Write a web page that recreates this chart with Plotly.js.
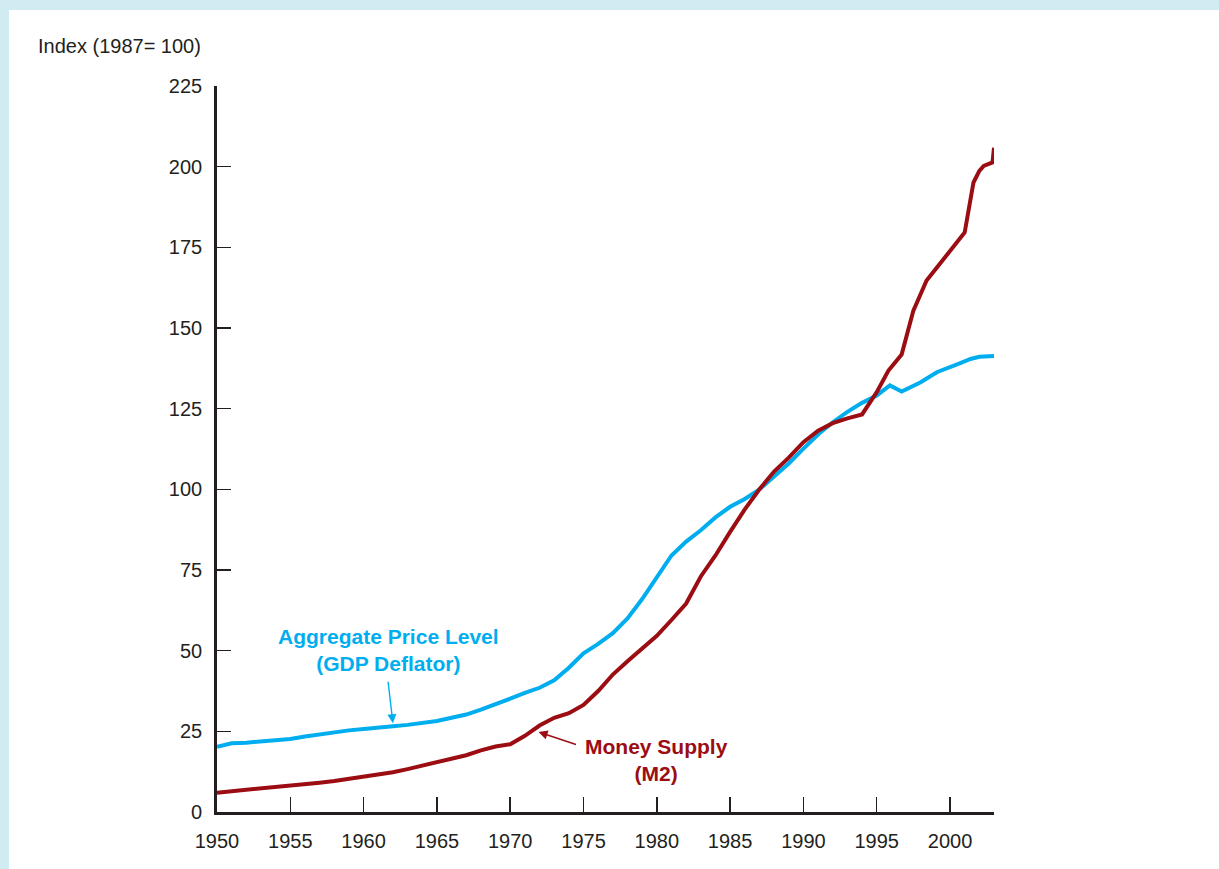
<!DOCTYPE html>
<html>
<head>
<meta charset="utf-8">
<script src="https://cdn.plot.ly/plotly-3.0.1.min.js"></script>
<style>html,body{margin:0;padding:0;background:#d0ebf1;}</style>
</head>
<body>
<div id="chart" style="width:1219px;height:869px;"></div>
<script>
// GDP deflator (1987 = 100)
const deflatorYears = [1950,1951,1952,1953,1954,1955,1956,1957,1958,1959,1960,1961,1962,1963,1964,1965,1966,1967,1968,1969,1970,1971,1972,1973,1974,1975,1976,1977,1978,1979,1980,1981,1982,1983,1984,1985,1986,1987,1988,1989,1990,1991,1992,1993,1994,1995,1995.9,1996.7,1998,1999.1,2000.7,2001.4,2002,2003];
const deflatorValues = [20.2,21.3,21.5,21.8,22.0,22.6,23.4,24.1,24.6,25.3,25.7,26.0,26.6,27.0,27.5,28.2,29.2,30.2,31.7,33.3,35.1,36.9,38.5,40.8,44.7,49.2,52.1,55.4,60.0,66.0,72.5,79.5,83.8,87.3,91.3,94.6,97.0,100.0,104.0,108.0,112.6,117.0,120.8,124.0,126.8,129.1,132.2,130.3,133.2,136.3,139.1,140.4,141.1,141.3];

// Money supply M2 (1987 = 100)
const m2Years = [1950,1951,1952,1953,1954,1955,1956,1957,1958,1959,1960,1961,1962,1963,1964,1965,1966,1967,1968,1969,1970,1971,1972,1973,1974,1975,1976,1977,1978,1979,1980,1981,1982,1983,1984,1985,1986,1987,1988,1989,1990,1991,1992,1993,1994,1995,1995.8,1996.7,1997.5,1998.4,2001.0,2001.6,2002.0,2002.3,2002.9,2003];
const m2Values = [6.0,6.4,6.9,7.4,7.8,8.3,8.7,9.1,9.6,10.3,10.7,11.4,12.3,13.3,14.4,15.5,16.6,17.6,19.1,20.3,21.0,23.6,26.8,29.2,30.6,33.2,37.5,42.6,46.7,50.6,54.6,59.5,64.6,73.0,79.5,86.8,93.8,100.0,105.5,109.8,114.6,118.2,120.5,122.0,123.2,130.1,136.8,141.8,155.4,164.7,179.6,195.1,198.7,200.2,201.3,205.9];

const yTicks = [0,25,50,75,100,125,150,175,200,225];
const xTicks = [1950,1955,1960,1965,1970,1975,1980,1985,1990,1995,2000];

const BLUE = '#00aeef';
const RED = '#9b0d12';
const AXIS = '#231f20';
const FONT = 'Liberation Sans, Arial, Helvetica, sans-serif';

const traces = [
  {x: deflatorYears, y: deflatorValues, type: 'scatter', mode: 'lines',
   line: {color: BLUE, width: 4}, hoverinfo: 'skip'},
  {x: m2Years, y: m2Values, type: 'scatter', mode: 'lines',
   line: {color: RED, width: 4}, hoverinfo: 'skip'}
];

const layout = {
  width: 1219, height: 869,
  margin: {l: 217, r: 225, t: 86, b: 57},
  paper_bgcolor: '#d0ebf1',
  plot_bgcolor: 'rgba(0,0,0,0)',
  showlegend: false,
  font: {family: FONT, size: 20, color: '#231f20'},
  title: {text: 'Index (1987= 100)', xref: 'container', yref: 'container',
          x: 38/1219, xanchor: 'left', y: 1 - 46/869, yanchor: 'middle',
          font: {family: FONT, size: 20, color: '#231f20'}},
  xaxis: {range: [1950, 2003], tickvals: xTicks, ticktext: xTicks.map(String),
          ticks: 'inside', ticklen: 15, tickwidth: 1.5, tickcolor: AXIS,
          showline: true, linewidth: 2.8, linecolor: AXIS,
          showgrid: false, zeroline: false, ticklabelstandoff: 9,
          tickfont: {family: FONT, size: 20, color: '#231f20'}},
  yaxis: {range: [0, 225], tickvals: yTicks, ticktext: yTicks.map(String),
          ticks: 'inside', ticklen: 14, tickwidth: 1.5, tickcolor: AXIS,
          showline: true, linewidth: 2.8, linecolor: AXIS,
          showgrid: false, zeroline: false, ticklabelstandoff: 8,
          tickfont: {family: FONT, size: 20, color: '#231f20'}},
  shapes: [
    {type: 'rect', xref: 'paper', yref: 'paper', layer: 'below',
     x0: -208/777, x1: 1002/777, y0: -57/726, y1: 802/726,
     fillcolor: '#ffffff', line: {width: 0}}
  ],
  annotations: [
    {x: 1961.7, y: 50.3, xref: 'x', yref: 'y', showarrow: false,
     text: 'Aggregate Price Level<br>(GDP Deflator)', align: 'center',
     xanchor: 'center', yanchor: 'middle',
     font: {family: FONT, size: 21, color: BLUE, weight: 'bold'}},
    {x: 1962.0, y: 27.5, xref: 'x', yref: 'y', text: '', showarrow: true,
     ax: -5, ay: -43, arrowhead: 2, arrowsize: 1.3, arrowwidth: 1.4, arrowcolor: BLUE, standoff: 0},
    {x: 1980.0, y: 16.2, xref: 'x', yref: 'y', showarrow: false,
     text: 'Money Supply<br>(M2)', align: 'center',
     xanchor: 'center', yanchor: 'middle',
     font: {family: FONT, size: 21, color: RED, weight: 'bold'}},
    {x: 1971.93, y: 24.8, xref: 'x', yref: 'y', text: '', showarrow: true,
     ax: 39, ay: 13, arrowhead: 2, arrowsize: 1.3, arrowwidth: 1.4, arrowcolor: RED, standoff: 0}
  ]
};

Plotly.newPlot('chart', traces, layout, {displayModeBar: false, staticPlot: true});
</script>
</body>
</html>
